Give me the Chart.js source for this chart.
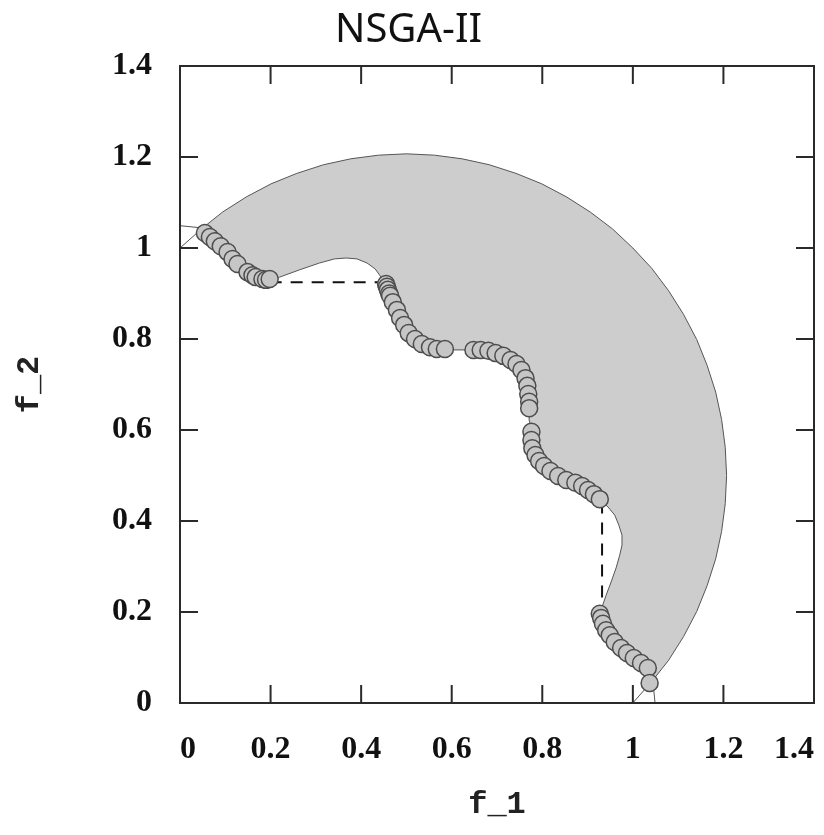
<!DOCTYPE html>
<html>
<head>
<meta charset="utf-8">
<script src="https://cdn.jsdelivr.net/npm/chart.js@4"></script>
<style>
    html, body { margin: 0; padding: 0; background: #fff; }
</style>
</head>
<body>
<canvas id="nsga-chart" width="824" height="835"></canvas>
<script>
// axis ticks
const tickValues = [0, 0.2, 0.4, 0.6, 0.8, 1, 1.2, 1.4];
const tickLabels = ['0', '0.2', '0.4', '0.6', '0.8', '1', '1.2', '1.4'];

// NSGA-II solutions (f_1, f_2)
const frontF1 = [
    0.055, 0.066, 0.077, 0.090, 0.105, 0.116, 0.127, 0.149, 0.160, 0.167, 0.182, 0.190, 0.198,
    0.455, 0.457, 0.459, 0.462, 0.464, 0.470, 0.479, 0.486, 0.495, 0.505, 0.519, 0.534, 0.552, 0.567, 0.585,
    0.648, 0.664, 0.681, 0.697, 0.714, 0.730, 0.743, 0.754, 0.763, 0.767, 0.769, 0.771, 0.771,
    0.776, 0.776, 0.778, 0.785, 0.793, 0.804, 0.818, 0.835, 0.853, 0.873, 0.888, 0.901, 0.914, 0.927,
    0.927, 0.930, 0.934, 0.941, 0.949, 0.960, 0.974, 0.987, 1.002, 1.018, 1.033, 1.037
];
const frontF2 = [
    1.033, 1.024, 1.015, 1.004, 0.991, 0.976, 0.965, 0.947, 0.940, 0.936, 0.932, 0.930, 0.932,
    0.921, 0.915, 0.908, 0.900, 0.895, 0.881, 0.864, 0.846, 0.831, 0.813, 0.800, 0.789, 0.782, 0.778, 0.778,
    0.776, 0.776, 0.774, 0.769, 0.763, 0.754, 0.745, 0.732, 0.714, 0.697, 0.679, 0.662, 0.648,
    0.596, 0.578, 0.560, 0.545, 0.532, 0.521, 0.510, 0.499, 0.490, 0.484, 0.477, 0.468, 0.459, 0.448,
    0.196, 0.187, 0.174, 0.160, 0.149, 0.134, 0.121, 0.110, 0.099, 0.088, 0.077, 0.044
];

// feasible region: outer arc (top-left to bottom-right)
const arcF1 = [
    0.050, 0.094, 0.146, 0.201, 0.258, 0.317, 0.377, 0.438, 0.500, 0.562, 0.623, 0.683, 0.742, 0.799,
    0.854, 0.906, 0.955, 1.000, 1.042, 1.079, 1.112, 1.141, 1.164, 1.183, 1.196, 1.204, 1.207,
    1.204, 1.196, 1.183, 1.164, 1.141, 1.112, 1.079, 1.044
];
const arcF2 = [
    1.044, 1.079, 1.112, 1.141, 1.164, 1.183, 1.196, 1.204, 1.207, 1.204, 1.196, 1.183, 1.164, 1.141,
    1.112, 1.079, 1.042, 1.000, 0.955, 0.906, 0.854, 0.799, 0.742, 0.683, 0.623, 0.562, 0.500,
    0.438, 0.377, 0.317, 0.258, 0.201, 0.146, 0.094, 0.050
];

// feasible region: inner wavy boundary (top-left to bottom-right)
const innerF1 = [
    0.050, 0.066, 0.090, 0.116, 0.149, 0.175, 0.198, 0.220, 0.264, 0.308, 0.341, 0.367, 0.391, 0.413,
    0.431, 0.444, 0.455, 0.470, 0.486, 0.505, 0.534, 0.567, 0.600, 0.648, 0.697, 0.730, 0.754, 0.767,
    0.771, 0.772, 0.776, 0.793, 0.818, 0.853, 0.888, 0.914, 0.932, 0.945, 0.960, 0.969, 0.976, 0.976,
    0.971, 0.963, 0.952, 0.941, 0.932, 0.930, 0.941, 0.960, 0.987, 1.018, 1.044
];
const innerF2 = [
    1.044, 1.024, 1.004, 0.976, 0.947, 0.934, 0.930, 0.936, 0.952, 0.967, 0.976, 0.978, 0.976, 0.967,
    0.954, 0.936, 0.921, 0.881, 0.846, 0.813, 0.789, 0.778, 0.776, 0.776, 0.769, 0.754, 0.732, 0.697,
    0.648, 0.620, 0.578, 0.532, 0.510, 0.490, 0.477, 0.459, 0.443, 0.431, 0.413, 0.391, 0.369, 0.347,
    0.325, 0.297, 0.266, 0.237, 0.211, 0.196, 0.160, 0.134, 0.110, 0.088, 0.050
];

// boundary curves running on to the axes
const edgeLines = [
    [[0, 1.0], [0.05, 1.044]],
    [[0, 1.049], [0.05, 1.044]],
    [[1.0, 0], [1.044, 0.05]],
    [[1.049, 0], [1.044, 0.05]]
];

// dashed links across the gaps of the front
const gapLines = [
    [[0.198, 0.925], [0.455, 0.925]],
    [[0.932, 0.443], [0.932, 0.196]]
];

const toPoints = (xs, ys) => xs.map((x, i) => ({ x: x, y: ys[i] }));
const pairToPoints = pair => pair.map(p => ({ x: p[0], y: p[1] }));

const regionPoints = toPoints(arcF1, arcF2).concat(toPoints(innerF1, innerF2).reverse().slice(1));

const tickLen = 18;
const frameTicks = {
    id: 'frameTicks',
    afterDatasetsDraw(chart) {
        const { ctx, chartArea: a, scales: { x, y } } = chart;
        ctx.save();
        ctx.strokeStyle = '#2a2a2a';
        ctx.lineWidth = 2;
        ctx.strokeRect(a.left, a.top, a.right - a.left, a.bottom - a.top);
        ctx.beginPath();
        tickValues.slice(1, -1).forEach(v => {
            const px = x.getPixelForValue(v);
            const py = y.getPixelForValue(v);
            ctx.moveTo(px, a.bottom); ctx.lineTo(px, a.bottom - tickLen);
            ctx.moveTo(px, a.top); ctx.lineTo(px, a.top + tickLen);
            ctx.moveTo(a.left, py); ctx.lineTo(a.left + tickLen, py);
            ctx.moveTo(a.right, py); ctx.lineTo(a.right - tickLen, py);
        });
        ctx.stroke();
        ctx.restore();
    }
};

const lineSet = (points, extra) => Object.assign({
    type: 'line',
    data: points,
    pointRadius: 0,
    borderColor: '#555555',
    borderWidth: 1,
    tension: 0,
    fill: false
}, extra);

const tickFont = { family: 'Liberation Serif', size: 32, weight: 'bold' };
const titleFont = { family: 'Liberation Mono', size: 32, weight: 'bold' };

new Chart(document.getElementById('nsga-chart'), {
    type: 'scatter',
    data: {
        datasets: [
            {
                label: 'NSGA-II',
                data: toPoints(frontF1, frontF2),
                pointRadius: 8.5,
                pointBackgroundColor: '#c6c6c6',
                pointBorderColor: '#4d4d4d',
                pointBorderWidth: 1.5,
                order: 0
            },
            ...gapLines.map(l => lineSet(pairToPoints(l), { borderColor: '#111', borderWidth: 2, borderDash: [12, 9], order: 1 })),
            ...edgeLines.map(l => lineSet(pairToPoints(l), { order: 2 })),
            lineSet(regionPoints, { fill: 'shape', backgroundColor: '#cdcdcd', order: 3 })
        ]
    },
    options: {
        responsive: false,
        animation: false,
        layout: { padding: { left: 0, right: 7, top: 0, bottom: 0 } },
        plugins: {
            legend: { display: false },
            tooltip: { enabled: false },
            title: {
                display: true,
                text: 'NSGA-II',
                color: '#111',
                font: { family: 'Noto Sans', size: 40, weight: 'normal' },
                padding: { top: 7, bottom: 11 }
            }
        },
        scales: {
            x: {
                type: 'linear',
                min: 0,
                max: 1.4,
                afterBuildTicks: scale => { scale.ticks = tickValues.map(v => ({ value: v })); },
                afterFit: scale => {
                    scale.height = 132;
                    scale.paddingLeft = 0;
                    scale.paddingRight = 0;
                },
                grid: { display: false, drawTicks: false },
                border: { display: false },
                ticks: {
                    align: 'inner',
                    padding: 28,
                    color: '#111',
                    font: tickFont,
                    maxRotation: 0,
                    callback: (v, i) => tickLabels[i]
                },
                title: { display: true, text: 'f_1', color: '#222', font: titleFont, padding: { top: 0, bottom: 11 } }
            },
            y: {
                type: 'linear',
                min: 0,
                max: 1.4,
                afterBuildTicks: scale => { scale.ticks = tickValues.map(v => ({ value: v })); },
                afterFit: scale => { scale.width = 180; },
                grid: { display: false, drawTicks: false },
                border: { display: false },
                ticks: {
                    padding: 28,
                    color: '#111',
                    font: tickFont,
                    callback: (v, i) => tickLabels[i]
                },
                title: { display: true, text: 'f_2', color: '#222', font: titleFont, padding: { top: 11, bottom: 0 } }
            }
        }
    },
    plugins: [frameTicks]
});
</script>
</body>
</html>
